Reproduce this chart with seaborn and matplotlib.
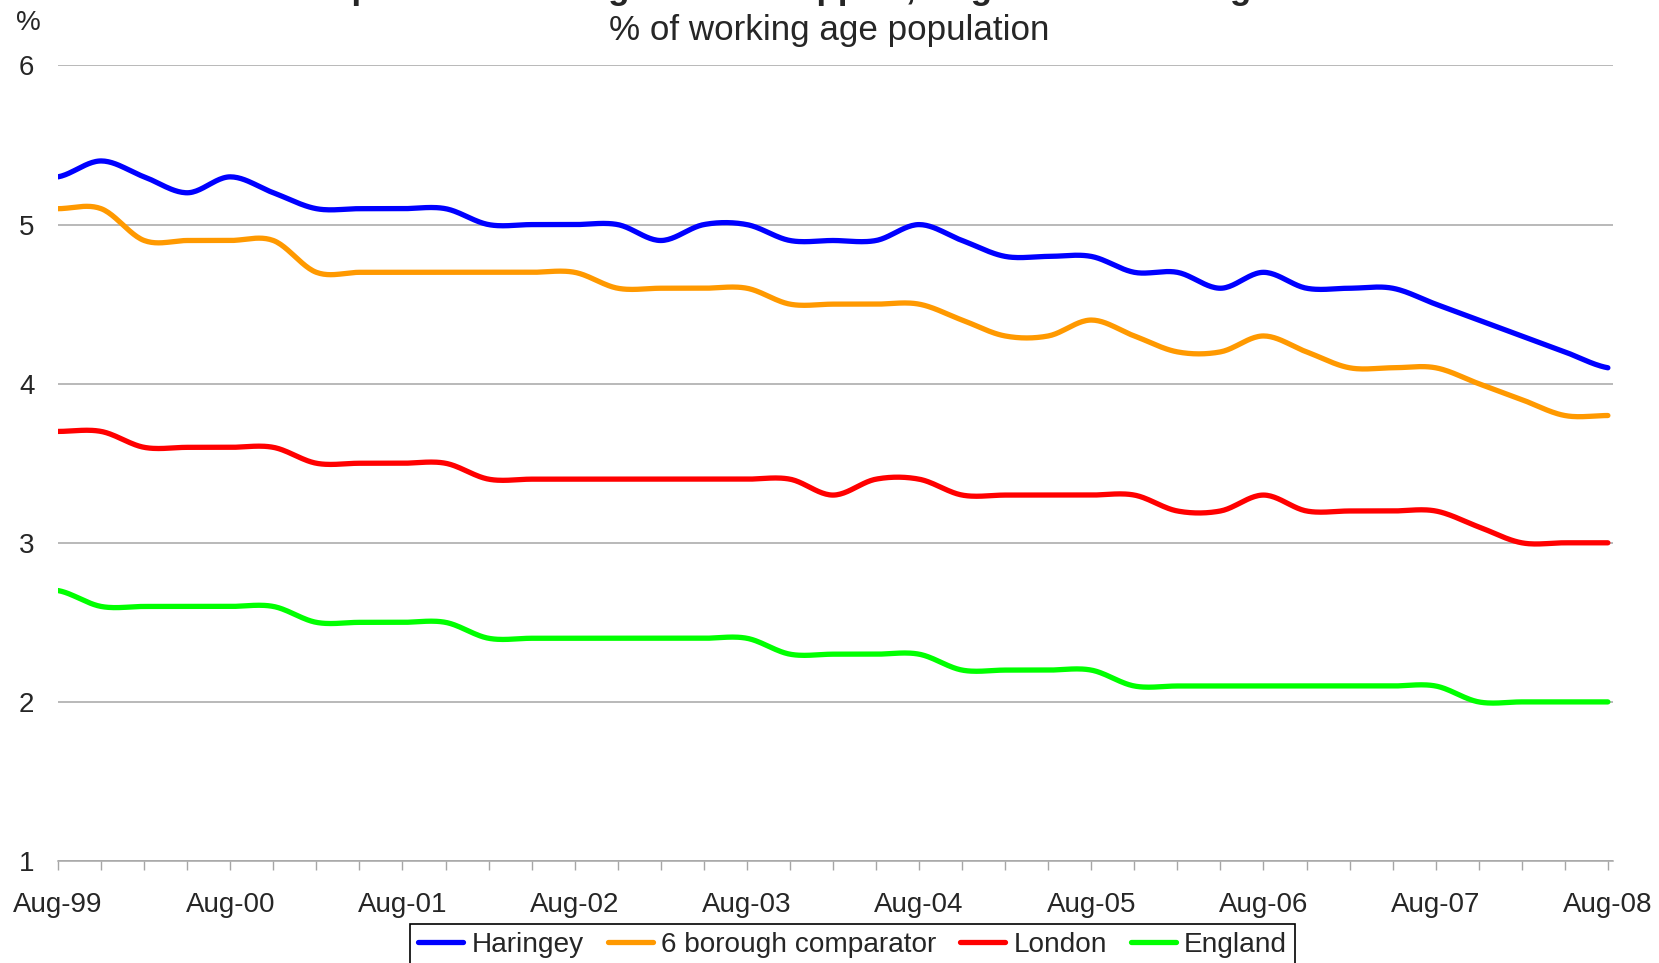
import numpy as np
import pandas as pd
import seaborn as sns
import matplotlib.pyplot as plt
from matplotlib.transforms import ScaledTranslation

# quarterly points, Aug-99 .. Aug-08
year_labels = ["Aug-99", "Aug-00", "Aug-01", "Aug-02", "Aug-03",
               "Aug-04", "Aug-05", "Aug-06", "Aug-07", "Aug-08"]

haringey = [5.3, 5.4, 5.3, 5.2, 5.3, 5.2, 5.1, 5.1, 5.1, 5.1,
            5.0, 5.0, 5.0, 5.0, 4.9, 5.0, 5.0, 4.9, 4.9, 4.9,
            5.0, 4.9, 4.8, 4.8, 4.8, 4.7, 4.7, 4.6, 4.7, 4.6,
            4.6, 4.6, 4.5, 4.4, 4.3, 4.2, 4.1]
comparator = [5.1, 5.1, 4.9, 4.9, 4.9, 4.9, 4.7, 4.7, 4.7, 4.7,
              4.7, 4.7, 4.7, 4.6, 4.6, 4.6, 4.6, 4.5, 4.5, 4.5,
              4.5, 4.4, 4.3, 4.3, 4.4, 4.3, 4.2, 4.2, 4.3, 4.2,
              4.1, 4.1, 4.1, 4.0, 3.9, 3.8, 3.8]
london = [3.7, 3.7, 3.6, 3.6, 3.6, 3.6, 3.5, 3.5, 3.5, 3.5,
          3.4, 3.4, 3.4, 3.4, 3.4, 3.4, 3.4, 3.4, 3.3, 3.4,
          3.4, 3.3, 3.3, 3.3, 3.3, 3.3, 3.2, 3.2, 3.3, 3.2,
          3.2, 3.2, 3.2, 3.1, 3.0, 3.0, 3.0]
england = [2.7, 2.6, 2.6, 2.6, 2.6, 2.6, 2.5, 2.5, 2.5, 2.5,
           2.4, 2.4, 2.4, 2.4, 2.4, 2.4, 2.4, 2.3, 2.3, 2.3,
           2.3, 2.2, 2.2, 2.2, 2.2, 2.1, 2.1, 2.1, 2.1, 2.1,
           2.1, 2.1, 2.1, 2.0, 2.0, 2.0, 2.0]

series = {"Haringey": haringey, "6 borough comparator": comparator,
          "London": london, "England": england}
colors = {"Haringey": "#0000ff", "6 borough comparator": "#ff9900",
          "London": "#ff0000", "England": "#00ff00"}


def smooth(vals, n=24):
    # Catmull-Rom through the points, like a spreadsheet "smoothed line"
    p = np.asarray(vals, float)
    pp = np.concatenate([[p[0]], p, [p[-1]]])
    t = np.linspace(0, 1, n, endpoint=False)
    xs, ys = [], []
    for i in range(len(p) - 1):
        p0, p1, p2, p3 = pp[i], pp[i + 1], pp[i + 2], pp[i + 3]
        y = 0.5 * (2 * p1 + (p2 - p0) * t
                   + (2 * p0 - 5 * p1 + 4 * p2 - p3) * t ** 2
                   + (-p0 + 3 * p1 - 3 * p2 + p3) * t ** 3)
        xs.append(i + t)
        ys.append(y)
    xs.append([len(p) - 1])
    ys.append([p[-1]])
    return np.concatenate(xs), np.concatenate(ys)


frames = []
for name, vals in series.items():
    x, y = smooth(vals)
    frames.append(pd.DataFrame({"x": x, "value": y, "series": name}))
df = pd.concat(frames, ignore_index=True)

sns.set_style("white")
plt.rcParams['font.family'] = ['Liberation Sans', 'DejaVu Sans']

fig = plt.figure(figsize=(16.59, 9.63), dpi=100)
ax = fig.add_axes([0.035, 0.1059, 0.9373, 0.8261])

sns.lineplot(data=df, x="x", y="value", hue="series", palette=colors,
             estimator=None, sort=False, linewidth=3.8, ax=ax,
             solid_capstyle="round")

ax.set_xlim(0, 36.12)
ax.set_ylim(1, 6)
ax.set_xlabel("")
ax.set_ylabel("")

ax.set_yticks([1, 2, 3, 4, 5, 6])
ax.set_yticklabels(["1", "2", "3", "4", "5", "6"], fontsize=20)
ax.set_xticks(range(0, 37, 4))
ax.set_xticklabels(year_labels, fontsize=20)
ax.set_xticks(range(37), minor=True)

# labels sit a little right of their ticks in the original
shift = ScaledTranslation(6 / 100, 0, fig.dpi_scale_trans)
for lbl in ax.get_xticklabels():
    lbl.set_transform(lbl.get_transform() + shift)

ax.grid(axis="y", color="#a6a6a6", linewidth=1.1)
ax.grid(axis="x", visible=False)
for side in ["left", "top", "right"]:
    ax.spines[side].set_visible(False)
ax.spines["bottom"].set_color("#a6a6a6")
ax.spines["bottom"].set_linewidth(1.1)

ax.tick_params(axis="x", which="both", direction="out", length=6.5,
               width=1, color="#a6a6a6", pad=16, bottom=True)
ax.tick_params(axis="y", length=0, pad=17)

fig.text(0.497, 1.0012, "Lone parents claiming Income Support, August 1999 to August 2008",
         ha="center", va="baseline", fontsize=25.2, fontweight="bold")
fig.text(0.5, 1 - 40 / 963, "% of working age population",
         ha="center", va="baseline", fontsize=25.2)
fig.text(28 / 1659, 1 - 23 / 963, "%", ha="center", va="center", fontsize=20)

handles, labels = ax.get_legend_handles_labels()
ax.get_legend().remove()
leg = fig.legend(handles, labels, loc="upper center", bbox_to_anchor=(0.514, 0.0467),
                 ncol=4, frameon=True, fancybox=False, edgecolor="black",
                 fontsize=20.2, handlelength=1.6, handletextpad=0.3,
                 columnspacing=0.85, borderpad=0.3, borderaxespad=0.2,
                 framealpha=1)
leg.get_frame().set_linewidth(1.2)
for line in leg.get_lines():
    line.set_linewidth(3.8)

fig.savefig("out.png", dpi=100)
